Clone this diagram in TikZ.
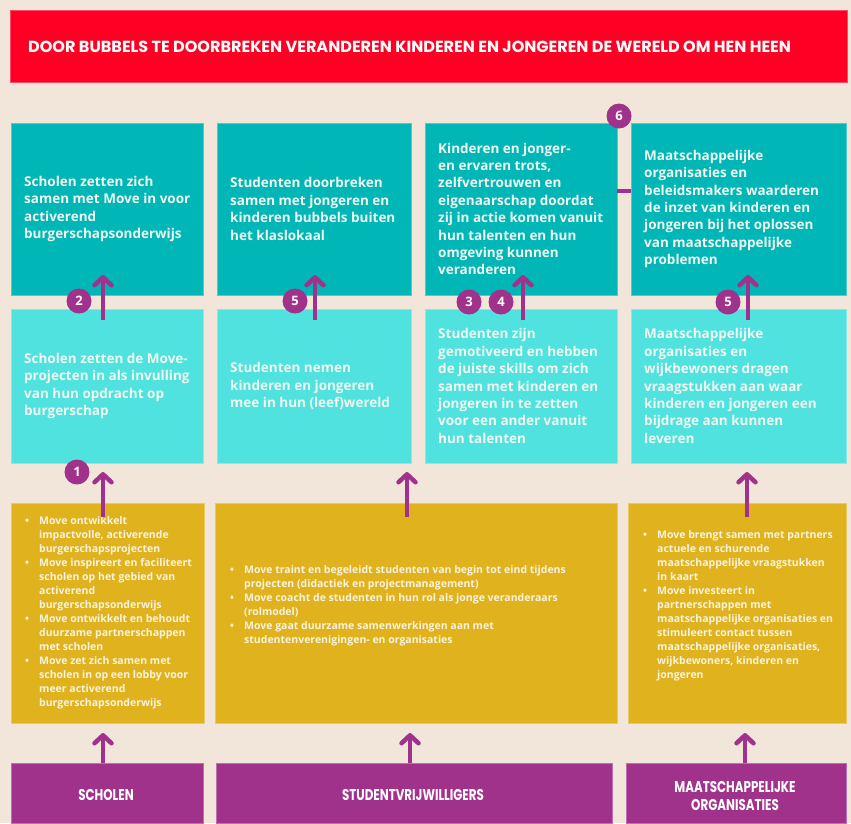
\documentclass[tikz,border=0pt]{standalone}
\usepackage{fontspec}
\setmainfont{Open Sans}
\newfontfamily\headfont{Poppins}
\usetikzlibrary{arrows.meta}
\definecolor{bg}{RGB}{242,230,218}
\definecolor{redbar}{RGB}{255,0,36}
\definecolor{teala}{RGB}{0,182,182}
\definecolor{cyana}{RGB}{80,226,222}
\definecolor{golda}{RGB}{223,178,30}
\definecolor{plum}{RGB}{160,50,140}
\definecolor{boxtxt}{RGB}{240,248,242}
\definecolor{goldtxt}{RGB}{250,243,222}
\newcommand{\ybul}{\makebox[14pt][l]{\textbullet}}
\newcommand{\yind}{\hspace*{14pt}}
\newcommand{\tallcaps}[1]{\scalebox{0.95}[1.25]{#1}}
\begin{document}
\begin{tikzpicture}[x=1pt,y=-1pt,
  boxbase/.style={inner sep=0pt, outer sep=0pt, line width=0.6pt},
  redbox/.style={boxbase, fill=redbar, draw=redbar!70!white},
  topbox/.style={boxbase, fill=teala, draw=teala!70!white, minimum height=172pt},
  midbox/.style={boxbase, fill=cyana, draw=cyana!70!white, minimum height=154pt},
  yelbox/.style={boxbase, fill=golda, draw=golda!70!white, minimum height=220pt},
  purbox/.style={boxbase, fill=plum, draw=plum!70!white, minimum height=60pt},
  boxtext/.style={anchor=west, inner sep=0pt, align=left, text=boxtxt, font=\bfseries\fontsize{13.5}{17.4}\selectfont},
  yeltext/.style={anchor=west, inner sep=0pt, align=left, text=goldtxt, font=\bfseries\fontsize{10.5}{14}\selectfont},
  labtext/.style={inner sep=0pt, align=center, text=white, font=\headfont\bfseries\fontsize{12.5}{18}\selectfont},
  numc/.style={circle, fill=plum, minimum size=25pt, inner sep=0pt, text=white, font=\bfseries\fontsize{13}{13}\selectfont},
  arr/.style={draw=plum, line width=4.5pt, -{Straight Barb[length=8pt,width=17pt,round]}},
  link/.style={draw=plum, line width=4.5pt}
]
\fill[bg] (0,0) rectangle (851,823);
\useasboundingbox (0,0) rectangle (851,823);

% title
\node[redbox, minimum width=837pt, minimum height=72pt] (title) at (428.5,46) {};
\node[anchor=west, inner sep=0pt, text=white, font=\headfont\bfseries\fontsize{16.05}{18}\selectfont] (titletext) at (28,47)
  {DOOR BUBBELS TE DOORBREKEN VERANDEREN KINDEREN EN JONGEREN DE WERELD OM HEN HEEN};

% top row
\node[topbox, minimum width=192pt] (t1) at (107,209) {};
\node[topbox, minimum width=194pt] (t2) at (314,209) {};
\node[topbox, minimum width=192pt] (t3) at (521,209) {};
\node[topbox, minimum width=215pt] (t4) at (738.5,209) {};
\node[boxtext, xshift=13pt] (t1x) at (t1.west) {Scholen zetten zich\\samen met Move in voor\\activerend\\burgerschapsonderwijs};
\node[boxtext, xshift=13pt] (t2x) at (t2.west) {Studenten doorbreken\\samen met jongeren en\\kinderen bubbels buiten\\het klaslokaal};
\node[boxtext, xshift=13pt] (t3x) at (t3.west) {Kinderen en jonger-\\en ervaren trots,\\zelfvertrouwen en\\eigenaarschap doordat\\zij in actie komen vanuit\\hun talenten en hun\\omgeving kunnen\\veranderen};
\node[boxtext, xshift=13pt] (t4x) at (t4.west) {Maatschappelijke\\organisaties en\\beleidsmakers waarderen\\de inzet van kinderen en\\jongeren bij het oplossen\\van maatschappelijke\\problemen};

% middle row
\node[midbox, minimum width=192pt] (m1) at (107,386) {};
\node[midbox, minimum width=194pt] (m2) at (314,386) {};
\node[midbox, minimum width=192pt] (m3) at (521,386) {};
\node[midbox, minimum width=215pt] (m4) at (738.5,386) {};
\node[boxtext, xshift=13pt] (m1x) at (m1.west) {Scholen zetten de Move-\\projecten in als invulling\\van hun opdracht op\\burgerschap};
\node[boxtext, xshift=13pt] (m2x) at (m2.west) {Studenten nemen\\kinderen en jongeren\\mee in hun (leef)wereld};
\node[boxtext, xshift=13pt] (m3x) at (m3.west) {Studenten zijn\\gemotiveerd en hebben\\de juiste skills om zich\\samen met kinderen en\\jongeren in te zetten\\voor een ander vanuit\\hun talenten};
\node[boxtext, xshift=13pt] (m4x) at (m4.west) {Maatschappelijke\\organisaties en\\wijkbewoners dragen\\vraagstukken aan waar\\kinderen en jongeren een\\bijdrage aan kunnen\\leveren};

% yellow row
\node[yelbox, minimum width=193pt] (y1) at (107.5,613) {};
\node[yelbox, minimum width=402pt] (y2) at (416,613) {};
\node[yelbox, minimum width=218pt] (y3) at (737,613) {};
\node[yeltext] (y1x) at (25,613) {\ybul Move ontwikkelt\\\yind impactvolle, activerende\\\yind burgerschapsprojecten\\\ybul Move inspireert en faciliteert\\\yind scholen op het gebied van\\\yind activerend\\\yind burgerschapsonderwijs\\\ybul Move ontwikkelt en behoudt\\\yind duurzame partnerschappen\\\yind met scholen\\\ybul Move zet zich samen met\\\yind scholen in op een lobby voor\\\yind meer activerend\\\yind burgerschapsonderwijs};
\node[yeltext] (y2x) at (230,606) {\ybul Move traint en begeleidt studenten van begin tot eind tijdens\\\yind projecten (didactiek en projectmanagement)\\\ybul Move coacht de studenten in hun rol als jonge veranderaars\\\yind (rolmodel)\\\ybul Move gaat duurzame samenwerkingen aan met\\\yind studentenverenigingen- en organisaties};
\node[yeltext] (y3x) at (643,606) {\ybul Move brengt samen met partners\\\yind actuele en schurende\\\yind maatschappelijke vraagstukken\\\yind in kaart\\\ybul Move investeert in\\\yind partnerschappen met\\\yind maatschappelijke organisaties en\\\yind stimuleert contact tussen\\\yind maatschappelijke organisaties,\\\yind wijkbewoners, kinderen en\\\yind jongeren};

% purple row
\node[purbox, minimum width=192pt] (p1) at (107,793) {};
\node[purbox, minimum width=396pt] (p2) at (414,793) {};
\node[purbox, minimum width=220pt] (p3) at (736,793) {};
\node[labtext] (p1x) at (106,795) {\tallcaps{SCHOLEN}};
\node[labtext] (p2x) at (413,795) {\tallcaps{STUDENTVRIJWILLIGERS}};
\node[labtext] (p3x) at (735,796) {\tallcaps{MAATSCHAPPELIJKE}\\\tallcaps{ORGANISATIES}};

% arrow columns
\coordinate (ax1) at (103,0);
\coordinate (ax2) at (410,0);
\coordinate (ax3) at (745,0);
\coordinate (bx2) at (407,0);
\coordinate (bx3) at (747,0);
\coordinate (cx2) at (315,0);
\coordinate (cx3) at (523,0);
\coordinate (cx4) at (748,0);
\coordinate (h6) at (0,191);

\draw[arr, shorten >=10pt] (p1.north -| ax1) -- (y1.south -| ax1);
\draw[arr, shorten >=10pt] (p2.north -| ax2) -- (y2.south -| ax2);
\draw[arr, shorten >=10pt] (p3.north -| ax3) -- (y3.south -| ax3);

\draw[arr, shorten <=-14pt, shorten >=9pt] (y1.north -| ax1) -- (m1.south -| ax1);
\draw[arr, shorten <=-14pt, shorten >=9pt] (y2.north -| bx2) -- (m2.south -| bx2);
\draw[arr, shorten <=-14pt, shorten >=9pt] (y3.north -| bx3) -- (m4.south -| bx3);

\draw[arr, shorten <=-11pt, shorten >=-20pt] (m1.north -| ax1) -- (t1.south -| ax1);
\draw[arr, shorten <=-11pt, shorten >=-20pt] (m2.north -| cx2) -- (t2.south -| cx2);
\draw[arr, shorten <=-11pt, shorten >=-20pt] (m3.north -| cx3) -- (t3.south -| cx3);
\draw[arr, shorten <=-11pt, shorten >=-20pt] (m4.north -| cx4) -- (t4.south -| cx4);

\draw[link] (t3.east |- h6) -- (t4.west |- h6);

% numbers
\node[numc] (n1) at (77,472) {1};
\node[numc] (n2) at (79,301) {2};
\node[numc] (n5a) at (295,301) {5};
\node[numc] (n3) at (469,302) {3};
\node[numc] (n4) at (501,302) {4};
\node[numc] (n5b) at (728,302) {5};
\node[numc] (n6) at (619,116) {6};
\end{tikzpicture}
\end{document}
